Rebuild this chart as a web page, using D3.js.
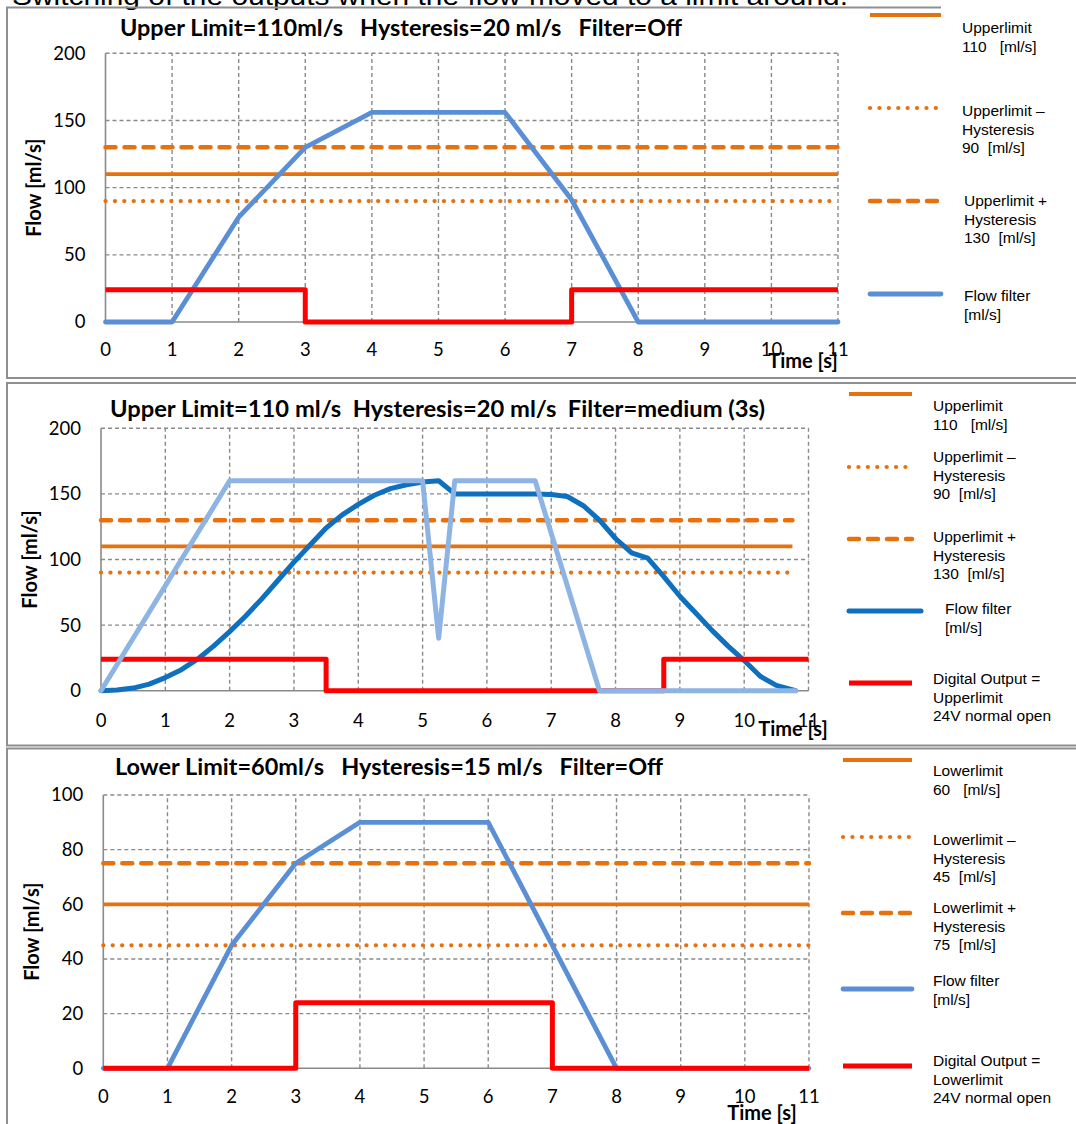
<!DOCTYPE html>
<html lang="en">
<head>
<meta charset="UTF-8">
<title>Flow limits</title>
<script src="https://d3js.org/d3.v7.min.js"></script>
<style>
    body { margin: 0; background: #fff; }
    svg { display: block; }
    text { white-space: pre; }
    .tick-label { font-family: Lato, "Open Sans", sans-serif; font-size: 18.5px; fill: #000; }
    .title { font-family: Lato, sans-serif; font-weight: bold; font-size: 22px; fill: #000; }
    .axis-title { font-family: Lato, sans-serif; font-weight: bold; font-size: 20px; fill: #000; }
    .legend-text { font-family: "Liberation Sans", Arial, sans-serif; font-size: 15.5px; fill: #000; }
</style>
</head>
<body>
<svg id="chart" width="1076" height="1124"></svg>
<script>
// time axis ticks (shared)
const timeTicks = [0, 1, 2, 3, 4, 5, 6, 7, 8, 9, 10, 11];

// panel 1: upper limit, filter off
const p1Title = "Upper Limit=110ml/s   Hysteresis=20 ml/s   Filter=Off";
const p1FlowTicks = [0, 50, 100, 150, 200];
const p1FlowT = [0, 1, 2, 3, 4, 6, 7, 8, 11];
const p1FlowV = [0, 0, 78, 130, 156, 156, 91, 0, 0];
const p1OutT = [0, 3, 3, 7, 7, 11];
const p1OutV = [24, 24, 0, 0, 24, 24];
const p1Limit = 110, p1LimitMinus = 90, p1LimitPlus = 130;

// panel 2: upper limit, filter medium
const p2Title = "Upper Limit=110 ml/s  Hysteresis=20 ml/s  Filter=medium (3s)";
const p2FlowTicks = [0, 50, 100, 150, 200];
const p2RawT = [0, 2, 5, 5.25, 5.5, 6.75, 7.75, 10.8];
const p2RawV = [0, 160, 160, 40, 160, 160, 0, 0];
const p2FiltT = [0, 0.25, 0.5, 0.75, 1, 1.25, 1.5, 1.75, 2, 2.25,
    2.5, 2.75, 3, 3.25, 3.5, 3.75, 4, 4.25, 4.5, 4.75,
    5, 5.25, 5.5, 5.75, 6, 6.25, 6.5, 6.75, 7, 7.25,
    7.5, 7.75, 8, 8.25, 8.5, 8.75, 9, 9.25, 9.5, 9.75,
    10, 10.25, 10.5, 10.8];
const p2FiltV = [0, 0.5, 2, 5, 10, 16, 24, 34, 45, 57,
    70, 84, 98, 111, 124, 134, 142, 149, 154, 157,
    159, 160, 150, 150, 150, 150, 150, 150, 149.5, 148,
    141, 130, 116, 105, 101, 87, 72, 59, 46, 34,
    23, 11, 4, 0];
const p2OutT = [0, 3.5, 3.5, 8.75, 8.75, 11];
const p2OutV = [24, 24, 0, 0, 24, 24];
const p2Limit = 110, p2LimitMinus = 90, p2LimitPlus = 130;

// panel 3: lower limit, filter off
const p3Title = "Lower Limit=60ml/s   Hysteresis=15 ml/s   Filter=Off";
const p3FlowTicks = [0, 20, 40, 60, 80, 100];
const p3FlowT = [0, 1, 2, 3, 4, 6, 7, 8, 11];
const p3FlowV = [0, 0, 45, 75, 90, 90, 45, 0, 0];
const p3OutT = [0, 3, 3, 7, 7, 11];
const p3OutV = [0, 0, 24, 24, 0, 0];
const p3Limit = 60, p3LimitMinus = 45, p3LimitPlus = 75;

const ORANGE = "#E8710F";
const BLUE = "#5A8FD6";
const DARK_BLUE = "#0E70BE";
const LIGHT_BLUE = "#8DB4E3";
const RED = "#FF0000";
const GRID = "#8a8a8a";

const styles = {
    limit: { color: ORANGE, width: 3.8, dash: null, cap: "butt" },
    minus: { color: ORANGE, width: 4.2, dash: "0.1 9.3", cap: "round" },
    plus: { color: ORANGE, width: 4.5, dash: "10 9", cap: "round" },
    flow: { color: BLUE, width: 4.8, dash: null, cap: "round" },
    dark: { color: DARK_BLUE, width: 5, dash: null, cap: "round" },
    light: { color: LIGHT_BLUE, width: 5, dash: null, cap: "round" },
    out: { color: RED, width: 5, dash: null, cap: "butt" }
};

const zip = (ts, vs) => ts.map((t, i) => [t, vs[i]]);
const flat = (v, t1) => [[0, v], [t1, v]];

const panels = [
    {
        title: p1Title, titleX: 120, titleY: 36, titleW: 562,
        x0: 105.5, x1: 838, yTop: 53.3, yBot: 322, yMax: 200, yTicks: p1FlowTicks,
        tickY: 356, axisTitleX: 34, timeX: 803, timeY: 368,
        series: [
            { style: "limit", pts: flat(p1Limit, 11) },
            { style: "minus", pts: flat(p1LimitMinus, 11) },
            { style: "plus", pts: flat(p1LimitPlus, 11) },
            { style: "flow", pts: zip(p1FlowT, p1FlowV) },
            { style: "out", pts: zip(p1OutT, p1OutV) }
        ],
        legendLineX: [870, 941], legendTextX: 962,
        legend: [
            { style: "limit", y: 15, lines: ["Upperlimit", "110   [ml/s]"], ty: 33 },
            { style: "minus", y: 108, lines: ["Upperlimit \u2013", "Hysteresis", "90  [ml/s]"], ty: 116 },
            { style: "plus", y: 201, lines: ["Upperlimit +", "Hysteresis", "130  [ml/s]"], ty: 206, dx: 2 },
            { style: "flow", y: 294, lines: ["Flow filter", "[ml/s]"], ty: 301, dx: 2 }
        ]
    },
    {
        title: p2Title, titleX: 110, titleY: 417, titleW: 655,
        x0: 101, x1: 808.5, yTop: 428.3, yBot: 690.7, yMax: 200, yTicks: p2FlowTicks,
        tickY: 727, axisTitleX: 30, timeX: 793, timeY: 736,
        series: [
            { style: "limit", pts: flat(p2Limit, 10.75) },
            { style: "minus", pts: flat(p2LimitMinus, 10.75) },
            { style: "plus", pts: flat(p2LimitPlus, 10.75) },
            { style: "dark", pts: zip(p2FiltT, p2FiltV) },
            { style: "out", pts: zip(p2OutT, p2OutV) },
            { style: "light", pts: zip(p2RawT, p2RawV) }
        ],
        legendLineX: [849, 912], legendTextX: 933,
        legend: [
            { style: "limit", y: 394, lines: ["Upperlimit", "110   [ml/s]"], ty: 411 },
            { style: "minus", y: 467, lines: ["Upperlimit \u2013", "Hysteresis", "90  [ml/s]"], ty: 462 },
            { style: "plus", y: 539, lines: ["Upperlimit +", "Hysteresis", "130  [ml/s]"], ty: 542 },
            { style: "dark", y: 611, lines: ["Flow filter", "[ml/s]"], ty: 614, dx: 12, lx: 921 },
            { style: "out", y: 683, lines: ["Digital Output =", "Upperlimit", "24V normal open"], ty: 684 }
        ]
    },
    {
        title: p3Title, titleX: 115, titleY: 775, titleW: 548,
        x0: 103.3, x1: 809, yTop: 795, yBot: 1068.3, yMax: 100, yTicks: p3FlowTicks,
        tickY: 1103, axisTitleX: 32, timeX: 762, timeY: 1120,
        series: [
            { style: "limit", pts: flat(p3Limit, 11) },
            { style: "minus", pts: flat(p3LimitMinus, 11) },
            { style: "plus", pts: flat(p3LimitPlus, 11) },
            { style: "flow", pts: zip(p3FlowT, p3FlowV) },
            { style: "out", pts: zip(p3OutT, p3OutV) }
        ],
        legendLineX: [843, 912], legendTextX: 933,
        legend: [
            { style: "limit", y: 760, lines: ["Lowerlimit", "60   [ml/s]"], ty: 776 },
            { style: "minus", y: 837, lines: ["Lowerlimit \u2013", "Hysteresis", "45  [ml/s]"], ty: 845 },
            { style: "plus", y: 913, lines: ["Lowerlimit +", "Hysteresis", "75  [ml/s]"], ty: 913 },
            { style: "flow", y: 989, lines: ["Flow filter", "[ml/s]"], ty: 986 },
            { style: "out", y: 1066, lines: ["Digital Output =", "Lowerlimit", "24V normal open"], ty: 1066 }
        ]
    }
];

const svg = d3.select("#chart");

// page heading, mostly cut off at the top
svg.append("text")
    .attr("x", 12).attr("y", 5)
    .attr("textLength", 836).attr("lengthAdjust", "spacingAndGlyphs")
    .style("font-family", "'Liberation Sans', Arial, sans-serif")
    .style("font-size", "26px")
    .text("Switching of the outputs when the flow moved to a limit around.");

// frames round the three pasted charts
const frame = svg.append("g").attr("stroke", "#8f8f8f").attr("stroke-width", 2).attr("fill", "none");
frame.append("path").attr("d", "M941,7.5H7V378H1076");
frame.append("path").attr("d", "M1076,383H7V745.5H1076");
frame.append("path").attr("d", "M1076,748.5H7V1124");

panels.forEach(p => {
    const x = d3.scaleLinear().domain([0, 11]).range([p.x0, p.x1]);
    const y = d3.scaleLinear().domain([0, p.yMax]).range([p.yBot, p.yTop]);
    const g = svg.append("g");

    // dashed grid
    const grid = g.append("g").attr("stroke", GRID).attr("stroke-width", 1.4).attr("stroke-dasharray", "4 3");
    grid.selectAll(".vg").data(timeTicks.slice(1)).enter().append("line")
        .attr("x1", d => x(d)).attr("x2", d => x(d))
        .attr("y1", y(0)).attr("y2", y(p.yMax));
    grid.selectAll(".hg").data(p.yTicks.slice(1)).enter().append("line")
        .attr("x1", x(0)).attr("x2", x(11))
        .attr("y1", d => y(d)).attr("y2", d => y(d));

    // solid left and bottom axis lines
    g.append("path")
        .attr("d", `M${x(0)},${y(p.yMax)}V${y(0)}H${x(11)}`)
        .attr("fill", "none").attr("stroke", GRID).attr("stroke-width", 1.6);

    // tick labels
    g.selectAll(".yl").data(p.yTicks).enter().append("text")
        .attr("class", "tick-label")
        .attr("x", x(0) - 20).attr("y", d => y(d)).attr("dy", "0.35em")
        .attr("text-anchor", "end").text(d => d);
    g.selectAll(".xl").data(timeTicks).enter().append("text")
        .attr("class", "tick-label")
        .attr("x", d => x(d)).attr("y", p.tickY)
        .attr("text-anchor", "middle").text(d => d);

    // series
    const line = d3.line().x(d => x(d[0])).y(d => y(d[1]));
    p.series.forEach(s => {
        const st = styles[s.style];
        g.append("path")
            .attr("d", line(s.pts))
            .attr("fill", "none")
            .attr("stroke", st.color)
            .attr("stroke-width", st.width)
            .attr("stroke-linecap", st.cap)
            .attr("stroke-linejoin", "round")
            .attr("stroke-dasharray", st.dash);
    });

    // titles
    g.append("text").attr("class", "title")
        .attr("x", p.titleX).attr("y", p.titleY)
        .attr("textLength", p.titleW).attr("lengthAdjust", "spacingAndGlyphs")
        .text(p.title);
    g.append("text").attr("class", "axis-title")
        .attr("transform", `translate(${p.axisTitleX},${(y(0) + y(p.yMax)) / 2}) rotate(-90)`)
        .attr("text-anchor", "middle").attr("dy", "0.35em")
        .text("Flow [ml/s]");
    g.append("text").attr("class", "axis-title")
        .attr("x", p.timeX).attr("y", p.timeY)
        .attr("text-anchor", "middle").text("Time [s]");

    // legend
    p.legend.forEach(l => {
        const st = styles[l.style];
        g.append("line")
            .attr("x1", p.legendLineX[0]).attr("x2", l.lx || p.legendLineX[1])
            .attr("y1", l.y).attr("y2", l.y)
            .attr("stroke", st.color)
            .attr("stroke-width", st.width)
            .attr("stroke-linecap", st.cap)
            .attr("stroke-dasharray", st.dash);
        const t = g.append("text").attr("class", "legend-text");
        l.lines.forEach((s, i) => {
            t.append("tspan")
                .attr("x", p.legendTextX + (l.dx || 0))
                .attr("y", l.ty + i * 18.7)
                .text(s);
        });
    });
});
</script>
</body>
</html>
